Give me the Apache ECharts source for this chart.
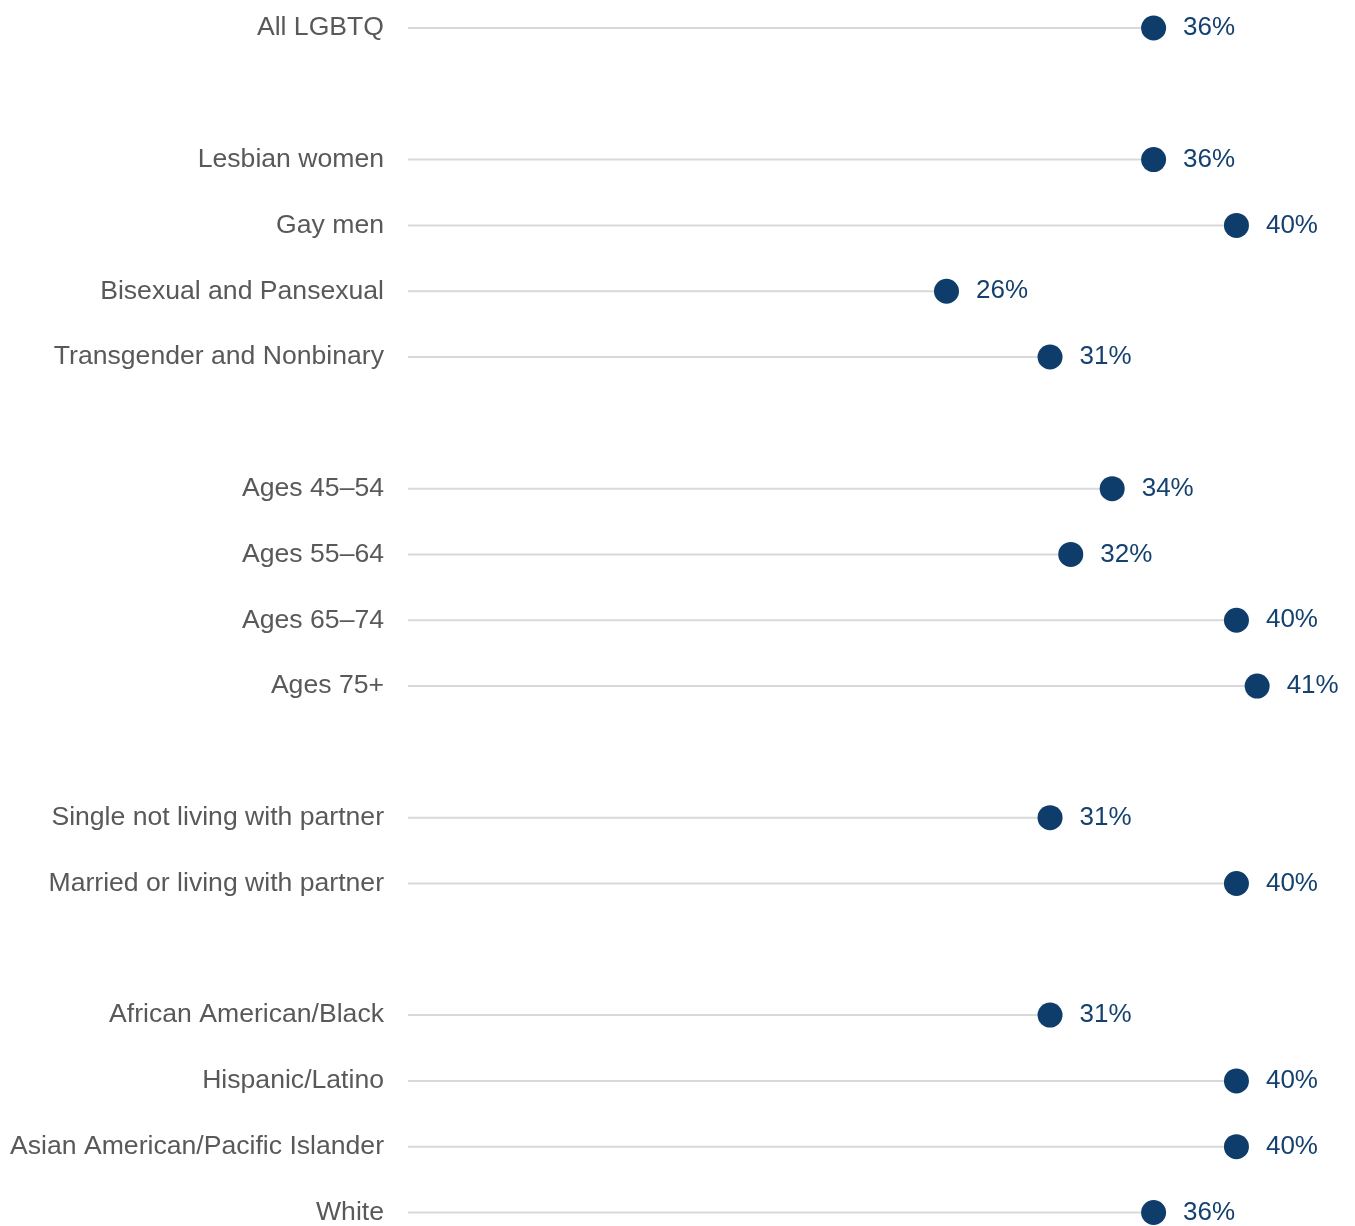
<!DOCTYPE html>
<html><head><meta charset="utf-8">
<script src="https://cdn.jsdelivr.net/npm/echarts@6/dist/echarts.min.js"></script>
<style>html,body{margin:0;padding:0;background:#fff}#c{width:1355px;height:1226px}</style>
</head><body><div id="c"></div>
<script>
const categories = [
  'All LGBTQ', '',
  'Lesbian women', 'Gay men', 'Bisexual and Pansexual', 'Transgender and Nonbinary', '',
  'Ages 45–54', 'Ages 55–64', 'Ages 65–74', 'Ages 75+', '',
  'Single not living with partner', 'Married or living with partner', '',
  'African American/Black', 'Hispanic/Latino', 'Asian American/Pacific Islander', 'White'
];
const values = [
  36, null,
  36, 40, 26, 31, null,
  34, 32, 40, 41, null,
  31, 40, null,
  31, 40, 40, 36
];
const chart = echarts.init(document.getElementById('c'));
const d = values.map(v => v === null ? '-' : v);
chart.setOption({
  animation: false,
  grid: { left: 408, right: 15, top: 28, bottom: 9, containLabel: false },
  xAxis: { type: 'value', min: 0, max: 45, show: false },
  yAxis: {
    type: 'category', data: categories, inverse: true, boundaryGap: false,
    axisLine: { show: false }, axisTick: { show: false }, splitLine: { show: false },
    axisLabel: { color: '#595959', fontSize: 26.6, fontFamily: 'Liberation Sans, Arial, sans-serif', margin: 24 }
  },
  series: [
    { type: 'bar', data: d, barWidth: 2, itemStyle: { color: '#d9d9d9' }, silent: true },
    { type: 'scatter', data: d, symbolSize: 25, itemStyle: { color: '#0f3d6b', opacity: 1 },
      label: { show: true, position: 'right', distance: 17, formatter: p => p.value + '%',
        color: '#14416f', fontSize: 26, fontFamily: 'Liberation Sans, Arial, sans-serif' } }
  ]
});
</script></body></html>
